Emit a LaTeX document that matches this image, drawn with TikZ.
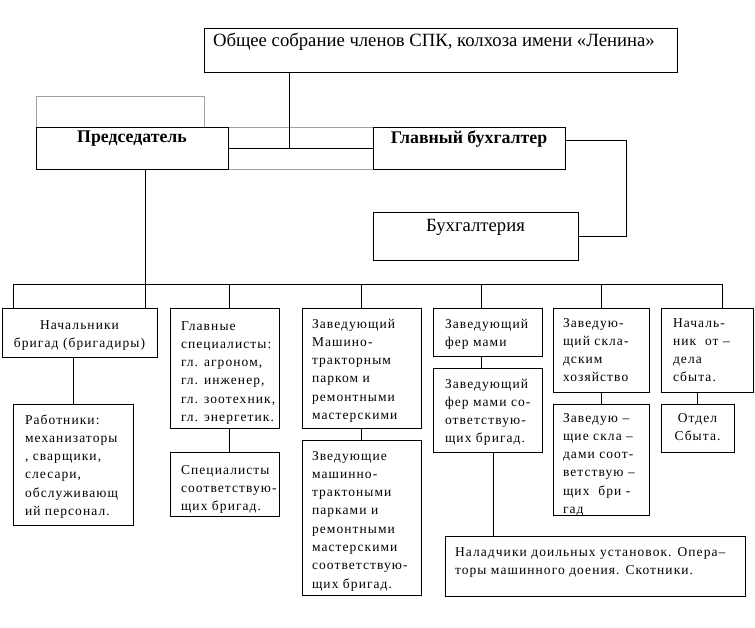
\documentclass[tikz,border=0pt]{standalone}
\usepackage{fontspec}
\setmainfont{Liberation Serif}
\newfontfamily\bxf[LetterSpace=8]{Liberation Serif}
\usetikzlibrary{calc}
\definecolor{gl}{gray}{0.63}
\tikzset{
 box/.style={draw, line width=1pt, inner sep=0pt, outer sep=0pt, anchor=north west},
 bt/.style={inner sep=0pt, outer sep=0pt, anchor=north west, align=left, font=\bxf\fontsize{13.5}{18.3}\selectfont},
 btc/.style={bt, anchor=north, align=center},
 big/.style={inner sep=0pt, outer sep=0pt, anchor=north, font=\fontsize{18.7}{22}\selectfont},
 bigb/.style={big, font=\bfseries\fontsize{17.8}{22}\selectfont},
 con/.style={line width=1pt},
 gline/.style={draw=gl, line width=1pt},
}
\newcommand\st{\rule{0pt}{11pt}}
\newcommand\stb{\rule{0pt}{15pt}}
\newcommand\bx[5]{\node[box, minimum width={#4-#2}, minimum height={#5-#3}] (#1) at (#2,#3) {};}
\begin{document}
\begin{tikzpicture}[x=1pt,y=-1pt]
\useasboundingbox (0,0) rectangle (755,627);
% grey frames
\draw[gline] (36,96) rectangle (204,127);
\draw[gline] (228,127) rectangle (373,169);
% boxes
\bx{top}{204}{28}{677}{72}
\bx{pr}{36}{127}{228}{169}
\bx{gb}{373}{127}{565}{169}
\bx{buh}{373}{212}{578}{260}
\bx{b1}{2}{308}{157}{357}
\bx{b2}{170}{308}{279}{428}
\bx{b3}{302}{308}{421}{428}
\bx{b4}{433}{308}{542}{356}
\bx{b5}{553}{308}{649}{392}
\bx{b6}{661}{308}{753}{392}
\bx{w1}{13}{404}{133}{525}
\bx{s2}{170}{452}{279}{516}
\bx{z3}{302}{440}{421}{595}
\bx{f4}{433}{368}{542}{452}
\bx{sk5}{553}{404}{649}{515}
\bx{o6}{661}{404}{734}{452}
\bx{n7}{445}{536}{745}{596}
% texts
\node[big, anchor=north west] (topt) at (213,31) {\stb Общее собрание членов СПК, колхоза имени «Ленина»};
\node[bigb] (prt) at (132,127) {\stb Председатель};
\node[bigb] (gbt) at (469,128) {\stb Главный бухгалтер};
\node[big] (buht) at (475.5,216) {\stb Бухгалтерия};
\node[btc] (b1t) at (79.5,318) {\st Начальники\\бригад (бригадиры)};
\node[bt] (b2t) at (181,319) {\st Главные\\специалисты:\\гл. агроном,\\гл. инженер,\\гл. зоотехник,\\гл. энергетик.};
\node[bt] (b3t) at (312,317) {\st Заведующий\\Машино-\\тракторным\\парком и\\ремонтными\\мастерскими};
\node[bt] (b4t) at (445,317) {\st Заведующий\\фер мами};
\node[bt] (b5t) at (563,316) {\st Заведую-\\щий скла-\\дским\\хозяйство};
\node[bt] (b6t) at (673,316) {\st Началь-\\ник~ от –\\дела\\сбыта.};
\node[bt] (w1t) at (25,413) {\st Работники:\\механизаторы\\, сварщики,\\слесари,\\обслуживающ\\ий персонал.};
\node[bt] (s2t) at (181,463) {\st Специалисты\\соответствую-\\щих бригад.};
\node[bt] (z3t) at (312,449) {\st Зведующие\\машинно-\\трактоными\\парками и\\ремонтными\\мастерскими\\соответствую-\\щих бригад.};
\node[bt] (f4t) at (445,377) {\st Заведующий\\фер мами со-\\ответствую-\\щих бригад.};
\node[bt] (sk5t) at (563,411) {\st Заведую –\\щие скла –\\дами соот-\\ветствую –\\щих~ бри -\\гад};
\node[btc] (o6t) at (697.5,411) {\st Отдел\\Сбыта.};
\node[bt] (n7t) at (455,545) {\st Наладчики доильных установок. Опера–\\торы машинного доения. Скотники.};
% connectors
\coordinate (j) at (289,148);
\draw[con] (pr.east) -- (gb.west);
\draw[con] (top.south -| j) -- (j);
\draw[con] ([yshift=8pt]gb.east) -- ++(61,0) |- (buh.east);
\coordinate (busL) at (13,284);
\coordinate (busR) at (722,284);
\draw[con] (busL) -- (busR);
\draw[con] (busL) -- (busL |- b1.north);
\draw[con] ([xshift=13pt]pr.south) -- ([xshift=13pt]pr.south |- b1.north);
\draw[con] ([xshift=4.5pt]b2.north) -- ([xshift=4.5pt]b2.north |- busL);
\draw[con] (b3.north) -- (b3.north |- busL);
\draw[con] ([xshift=-6.5pt]b4.north) -- ([xshift=-6.5pt]b4.north |- busL);
\draw[con] (b5.north) -- (b5.north |- busL);
\draw[con] (busR) -- (busR |- b6.north);
\draw[con] (w1.north) -- (w1.north |- b1.south);
\draw[con] ([xshift=4.5pt]s2.north) -- ([xshift=4.5pt]s2.north |- b2.south);
\draw[con] (z3.north) -- (b3.south);
\draw[con] ([xshift=-6.5pt]f4.north) -- ([xshift=-6.5pt]f4.north |- b4.south);
\draw[con] (sk5.north) -- (b5.south);
\draw[con] (o6.north) -- (o6.north |- b6.south);
\draw[con] ([xshift=5.5pt]f4.south) -- ([xshift=5.5pt]f4.south |- n7.north);
\end{tikzpicture}
\end{document}
